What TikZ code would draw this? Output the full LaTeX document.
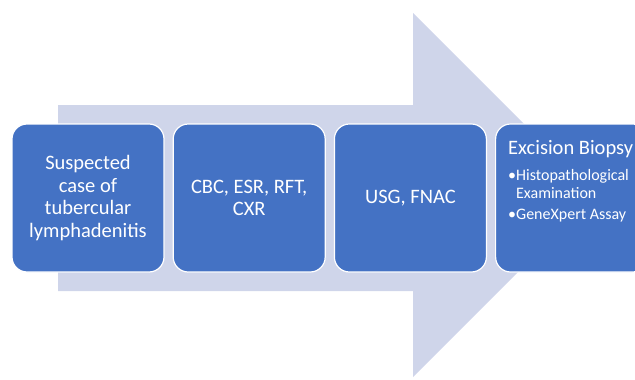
\documentclass[tikz,border=0pt]{standalone}
\usepackage{fontspec}
\setmainfont{Carlito}
\usetikzlibrary{positioning}
\definecolor{stepblue}{HTML}{4472C4}
\definecolor{flowgrey}{HTML}{CFD5EA}

\begin{document}
\begin{tikzpicture}[x=1pt, y=-1pt,
    stage/.style={draw=white, line width=1.2pt, fill=stepblue, rounded corners=15pt,
        minimum width=152pt, minimum height=148pt, text width=140pt, align=flush center,
        inner sep=0pt, text=white, font=\fontsize{20.5}{22.7}\selectfont},
    stagetext/.style={inner sep=0pt, text=white, anchor=base west},
    bullettext/.style={stagetext, font=\fontsize{16}{18}\selectfont}]
    \useasboundingbox (0,0) rectangle (635,380);
    \clip (0,0) rectangle (635,380);

    % big arrow behind the steps
    \fill[flowgrey] (58,105) -- (413,105) -- (413,13) -- (595,195)
        -- (413,377) -- (413,291) -- (58,291) -- cycle;

    \node[stage] (suspect) at (88,198) {Suspected\\case of\\tubercular\\lymphadenitis};
    \node[stage, right=8pt of suspect] (bloods) {CBC, ESR, RFT,\\CXR};
    \node[stage, right=8pt of bloods] (imaging) {USG, FNAC};
    \node[stage, right=8pt of imaging] (biopsy) {};

    % last step: heading and bullet lines
    \node[stagetext, font=\fontsize{20.5}{22.7}\selectfont]
        (biopsyhead) at ([xshift=13pt, yshift=-31pt]biopsy.north west) {Excision Biopsy};
    \node[bullettext] (histo) at ([xshift=13pt, yshift=-57pt]biopsy.north west)
        {\textbullet Histopathological};
    \node[bullettext] (histo2) at ([xshift=13pt, yshift=-75pt]biopsy.north west)
        {\hphantom{\textbullet}Examination};
    \node[bullettext] (genex) at ([xshift=13pt, yshift=-96pt]biopsy.north west)
        {\textbullet GeneXpert Assay};
\end{tikzpicture}
\end{document}
